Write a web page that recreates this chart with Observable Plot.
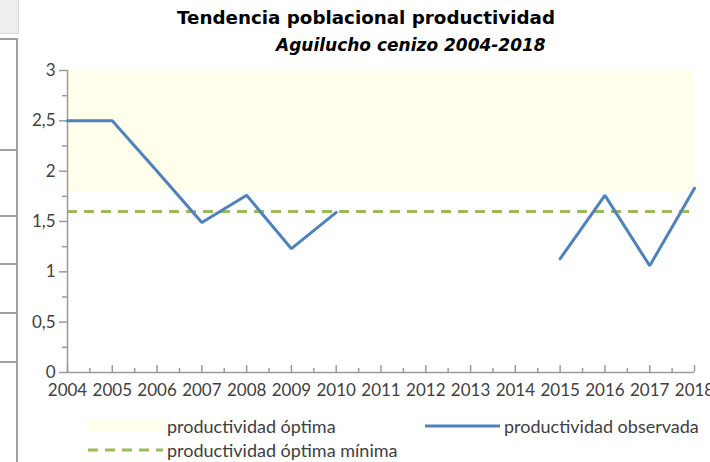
<!DOCTYPE html>
<html>
<head>
<meta charset="utf-8">
<script src="https://cdn.jsdelivr.net/npm/d3@7"></script>
<script src="https://cdn.jsdelivr.net/npm/@observablehq/plot@0.6"></script>
<style>
  html, body { margin: 0; padding: 0; background: #fff; }
  #wrap { position: relative; width: 710px; height: 462px; overflow: hidden; font-family: Lato, "Open Sans", sans-serif; }
  #chart { position: absolute; left: 0; top: 0; }
  .title { position: absolute; left: 177px; top: 7px; font-family: "DejaVu Sans", sans-serif; font-weight: bold; font-size: 18.3px; color: #000; white-space: nowrap; }
  .subtitle { position: absolute; left: 276px; top: 35px; font-family: "DejaVu Sans", sans-serif; font-weight: bold; font-style: italic; font-size: 17px; color: #000; white-space: nowrap; }
  .leg { position: absolute; font-size: 18px; color: #404040; white-space: nowrap; display: flex; align-items: center; }
  .leg svg { margin-right: 4px; }
  .deco { position: absolute; background: #a0a0a0; }
</style>
</head>
<body>
<div id="wrap">
  <div id="chart"></div>
  <div class="deco" style="left:0;top:0;width:18px;height:33px;background:#eeeeee;border-bottom:1px solid #d8d8d8;border-right:1px solid #d8d8d8;"></div>
  <div class="deco" style="left:16px;top:38px;width:2px;height:424px;"></div>
  <div class="deco" style="left:0;top:38px;width:18px;height:2px;"></div>
  <div class="deco" style="left:0;top:149px;width:18px;height:2px;"></div>
  <div class="deco" style="left:0;top:215px;width:18px;height:2px;"></div>
  <div class="deco" style="left:0;top:263px;width:18px;height:2px;"></div>
  <div class="deco" style="left:0;top:312px;width:18px;height:2px;"></div>
  <div class="deco" style="left:0;top:361px;width:18px;height:2px;"></div>
  <div class="title" id="title"></div>
  <div class="subtitle" id="subtitle"></div>
  <div class="leg" style="left:88px;top:415px;">
    <svg width="75" height="12"><rect width="75" height="12" fill="#FFFFEB"></rect></svg><span id="l1"></span>
  </div>
  <div class="leg" style="left:425px;top:415px;">
    <svg width="75" height="6"><line x1="0" x2="75" y1="3" y2="3" stroke="#4F81BD" stroke-width="3"></line></svg><span id="l2"></span>
  </div>
  <div class="leg" style="left:88px;top:439px;">
    <svg width="75" height="6"><line x1="0" x2="75" y1="3" y2="3" stroke="#9BBB59" stroke-width="3" stroke-dasharray="10,7"></line></svg><span id="l3"></span>
  </div>
</div>
<script>
const titleText = "Tendencia poblacional productividad";
const subtitleText = "Aguilucho cenizo 2004-2018";
const legendLabels = ["productividad óptima", "productividad observada", "productividad óptima mínima"];

const years = [2004, 2005, 2006, 2007, 2008, 2009, 2010, 2011, 2012, 2013, 2014, 2015, 2016, 2017, 2018];
const observed = [2.5, 2.5, 2.0, 1.49, 1.76, 1.23, 1.59, null, null, null, null, 1.13, 1.76, 1.06, 1.83];
const optimalBand = [1.8, 3];
const optimalMin = 1.6;
const yTicks = [0, 0.5, 1, 1.5, 2, 2.5, 3];
const yMinorTicks = [0.25, 0.75, 1.25, 1.75, 2.25, 2.75];
const xMinorTicks = [2004.5, 2005.5, 2006.5, 2007.5, 2008.5, 2009.5, 2010.5, 2011.5, 2012.5, 2013.5, 2014.5, 2015.5, 2016.5, 2017.5];

document.getElementById("title").textContent = titleText;
document.getElementById("subtitle").textContent = subtitleText;
document.getElementById("l1").textContent = legendLabels[0];
document.getElementById("l2").textContent = legendLabels[1];
document.getElementById("l3").textContent = legendLabels[2];

const data = years.map((y, i) => ({year: y, value: observed[i]}));
const axisColor = "#9a9a9a";
const textColor = "#404040";

const chart = Plot.plot({
  width: 710,
  height: 462,
  marginLeft: 67,
  marginRight: 16,
  marginTop: 70,
  marginBottom: 90,
  style: {fontFamily: "Lato, 'Open Sans', sans-serif", fontSize: "17px", background: "transparent"},
  x: {domain: [2004, 2018]},
  y: {domain: [0, 3]},
  marks: [
    Plot.rect([{x1: years[0], x2: years[years.length - 1], y1: optimalBand[0], y2: optimalBand[1]}],
      {x1: "x1", x2: "x2", y1: "y1", y2: "y2", fill: "#FFFFEB"}),
    Plot.ruleY([optimalMin], {stroke: "#9BBB59", strokeWidth: 3, strokeDasharray: "10,7"}),
    Plot.ruleX([years[0]], {stroke: axisColor, strokeWidth: 1.5}),
    Plot.ruleY([0], {stroke: axisColor, strokeWidth: 1.5}),
    Plot.ruleX(years, {x: d => d, y1: 0, y2: 0, insetTop: -7, stroke: axisColor, strokeWidth: 1.5}),
    Plot.ruleX(xMinorTicks, {x: d => d, y1: 0, y2: 0, insetTop: -4, stroke: axisColor, strokeWidth: 1.5}),
    Plot.axisY(yTicks, {tickSize: 8, tickPadding: 4, stroke: axisColor, fill: textColor, strokeWidth: 1.5,
      tickFormat: d => String(d).replace(".", ","), label: null}),
    Plot.axisY(yMinorTicks, {tickSize: 5, text: null, stroke: axisColor, strokeWidth: 1.5, label: null}),
    Plot.axisX(years, {tickSize: 0, tickPadding: 11, fill: textColor, tickFormat: d => String(d), label: null}),
    Plot.line(data, {x: "year", y: "value", stroke: "#4F81BD", strokeWidth: 3, strokeLinejoin: "miter"})
  ]
});
document.getElementById("chart").appendChild(chart);
</script>
</body>
</html>
